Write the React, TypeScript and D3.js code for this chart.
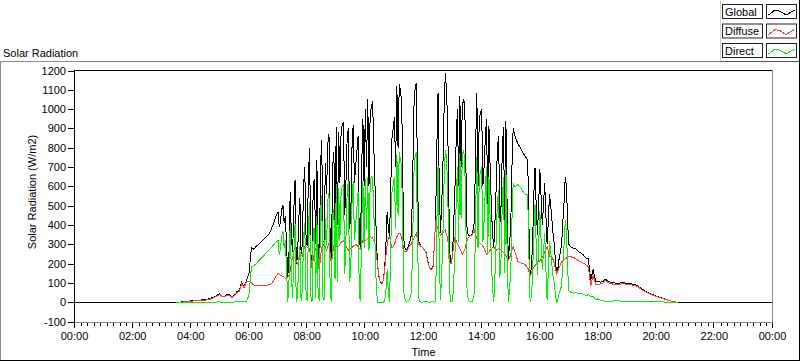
import React from 'react';
import * as d3 from 'd3';

// Waveform segments (minutes of day): dawn 03:30-06:55 every 5 min,
// day 07:00-16:57.5 every 2.5 min, dusk 17:00-21:00 every 5 min.
const DAWN_T0 = 210;
const DAWN_DT = 5;
const DAY_T0 = 420;
const DAY_DT = 2.5;
const DUSK_T0 = 1020;
const DUSK_DT = 5;

const globalDawn = [
  0, 0, 2, 3, 5, 6, 8, 9, 10, 10, 12, 13, 15, 17, 20, 25, 30, 38, 45, 31, 33, 42, 38, 28, 40, 55, 62, 105, 80, 114,
  150, 284, 275, 290, 300, 312, 325, 338, 350, 372, 405, 442,
];
const diffuseDawn = [
  0, 0, 1, 2, 3, 4, 6, 7, 8, 8, 10, 11, 12, 14, 17, 22, 27, 34, 41, 28, 30, 38, 35, 25, 36, 50, 57, 98, 76, 108,
  110, 100, 90, 88, 87, 88, 88, 88, 90, 92, 110, 132,
];
const directDawn = [
  0, 0, 0, 0, 1, 1, 1, 1, 1, 1, 1, 1, 1, 1, 1, 1, 1, 2, 2, 1, 1, 2, 1, 1, 2, 2, 2, 5, 2, 4,
  40, 184, 190, 200, 215, 228, 240, 255, 268, 280, 295, 310,
];

const globalDay = [
  // 07
  470, 390, 420, 480, 505, 410, 445, 300, 130, 250, 573, 330, 260, 480, 634, 200, 230, 420, 540, 250, 300, 600, 700, 350,
  // 08
  290, 650, 800, 260, 185, 600, 640, 300, 738, 280, 165, 700, 840, 320, 310, 720, 560, 820, 870, 300, 205, 700, 780, 420,
  // 09
  910, 400, 880, 620, 880, 920, 930, 450, 620, 850, 900, 380, 450, 800, 920, 620, 700, 780, 860, 320, 280, 700, 950, 600,
  // 10
  1000, 700, 1050, 600, 980, 1010, 1040, 800, 600, 350, 200, 140, 110, 100, 98, 120, 180, 300, 470, 380, 340, 600, 850, 900,
  // 11
  960, 700, 1120, 800, 1130, 1094, 1040, 600, 290, 280, 270, 285, 300, 320, 350, 600, 1000, 1100, 1137, 700, 320, 300, 290, 285,
  // 12
  280, 270, 260, 230, 200, 180, 170, 175, 190, 300, 430, 800, 1085, 600, 360, 500, 700, 1000, 1189, 1100, 900, 500, 210, 205,
  // 13
  250, 420, 600, 850, 1000, 600, 1067, 700, 1010, 1050, 1030, 700, 360, 350, 345, 348, 350, 380, 420, 800, 1085, 600, 950, 980,
  // 14
  1000, 600, 700, 850, 950, 500, 911, 700, 500, 350, 287, 420, 600, 800, 860, 400, 500, 780, 910, 400, 938, 500, 218, 300,
  // 15
  400, 700, 903, 870, 850, 835, 820, 810, 800, 788, 775, 765, 755, 745, 738, 400, 140, 180, 300, 550, 697, 500, 350, 500,
  // 16
  690, 550, 400, 500, 620, 450, 300, 420, 560, 500, 426, 350, 300, 200, 150, 180, 230, 260, 300, 420, 520, 650, 600, 400,
];
const diffuseDay = [
  150, 145, 140, 138, 135, 130, 125, 125, 130, 140, 160, 200, 235, 232, 230, 215, 200, 225, 250, 245, 240, 265, 288, 290,
  285, 282, 280, 230, 180, 220, 260, 275, 290, 225, 160, 230, 285, 292, 300, 285, 270, 290, 305, 250, 200, 250, 295, 300,
  300, 295, 290, 300, 310, 315, 320, 305, 290, 280, 270, 275, 280, 285, 290, 295, 300, 295, 288, 280, 275, 300, 320, 320,
  320, 325, 330, 335, 340, 338, 335, 320, 300, 260, 200, 150, 110, 104, 98, 120, 170, 240, 300, 330, 340, 310, 280, 290,
  300, 320, 340, 350, 357, 357, 330, 300, 262, 262, 265, 275, 288, 295, 300, 320, 330, 345, 357, 330, 300, 295, 288, 285,
  278, 268, 258, 228, 198, 180, 168, 172, 185, 300, 426, 400, 380, 360, 349, 355, 360, 370, 374, 350, 330, 260, 200, 203,
  248, 300, 340, 320, 300, 290, 280, 265, 250, 260, 270, 300, 322, 335, 343, 346, 348, 360, 374, 350, 330, 320, 310, 305,
  300, 290, 280, 265, 250, 255, 260, 270, 280, 285, 285, 278, 270, 275, 280, 275, 270, 265, 260, 250, 240, 230, 216, 230,
  250, 270, 288, 270, 250, 230, 210, 208, 205, 202, 200, 198, 195, 188, 180, 160, 138, 150, 170, 180, 190, 200, 210, 212,
  215, 222, 230, 245, 260, 275, 288, 265, 240, 238, 235, 220, 200, 170, 148, 165, 180, 195, 210, 215, 220, 225, 230, 235,
];
const directDay = [
  320, 245, 280, 342, 370, 280, 320, 175, 0, 110, 413, 130, 25, 248, 404, 0, 30, 195, 290, 5, 60, 335, 412, 60,
  5, 368, 520, 30, 5, 380, 380, 25, 448, 55, 5, 470, 555, 28, 10, 435, 290, 530, 565, 50, 5, 450, 485, 120,
  610, 105, 590, 320, 570, 605, 610, 145, 330, 570, 630, 105, 170, 515, 630, 325, 400, 485, 572, 40, 5, 400, 630, 280,
  640, 375, 650, 265, 620, 652, 640, 460, 300, 90, 0, 0, 0, 0, 0, 0, 10, 60, 170, 50, 0, 290, 570, 610,
  650, 380, 770, 450, 780, 735, 700, 300, 25, 15, 3, 10, 12, 25, 50, 280, 660, 750, 780, 370, 20, 5, 2, 0,
  2, 2, 2, 2, 2, 0, 2, 3, 5, 0, 4, 400, 705, 240, 11, 145, 340, 630, 790, 750, 570, 240, 10, 2,
  2, 120, 260, 530, 700, 310, 775, 435, 760, 790, 740, 400, 38, 15, 2, 2, 2, 20, 46, 450, 750, 280, 640, 675,
  700, 310, 420, 585, 700, 245, 650, 430, 220, 65, 2, 142, 330, 525, 580, 125, 230, 515, 650, 150, 698, 270, 2, 70,
  150, 430, 615, 600, 600, 605, 610, 602, 595, 586, 575, 567, 560, 557, 558, 240, 2, 30, 130, 370, 507, 300, 140, 288,
  475, 328, 170, 255, 360, 175, 12, 155, 320, 262, 190, 130, 100, 30, 2, 15, 50, 65, 90, 205, 300, 425, 370, 165,
];

const globalDusk = [
  300, 285, 280, 275, 262, 255, 245, 230, 225, 115, 170, 110,
  110, 105, 108, 120, 112, 105, 102, 100, 98, 100, 104, 100,
  100, 98, 95, 92, 88, 80, 70, 62, 55, 48, 42, 38,
  33, 28, 24, 20, 16, 12, 8, 5, 3, 0, 0, 0,
  0,
];
const diffuseDusk = [
  240, 235, 232, 225, 215, 210, 202, 195, 185, 85, 140, 95,
  92, 95, 100, 114, 105, 98, 95, 92, 90, 93, 98, 95,
  95, 93, 90, 88, 84, 76, 66, 58, 52, 45, 40, 36,
  31, 26, 22, 18, 15, 11, 7, 4, 2, 0,
];
const directDusk = [
  60, 50, 48, 50, 47, 45, 43, 35, 40, 30, 30, 15,
  18, 10, 8, 6, 7, 7, 7, 8, 8, 7, 6, 5,
  5, 5, 5, 4, 4, 4, 4, 4, 3, 3, 2, 2,
  2, 2, 2, 2, 1, 1, 1, 1, 1, 0,
];

// Global radiation is zero through the night at both ends of the day
const nightStart = { t: 0, v: 0 };
const nightEnd = { t: 1440, v: 0 };

const yTickValues = [-100, 0, 100, 200, 300, 400, 500, 600, 700, 800, 900, 1000, 1100, 1200];
const xTickValues = [0, 120, 240, 360, 480, 600, 720, 840, 960, 1080, 1200, 1320, 1440];
const xTickLabels = ['00:00', '02:00', '04:00', '06:00', '08:00', '10:00', '12:00', '14:00', '16:00', '18:00', '20:00', '22:00', '00:00'];

const seriesNames = ['Global', 'Diffuse', 'Direct'];
const seriesColors = ['#000000', '#ff3c3c', '#00f000'];

const W = 800;
const H = 361;
const FONT = "'Liberation Sans', Arial, sans-serif";

const plot = { left: 74.5, right: 772.5, top: 70.5, bottom: 322.5 };

type Pt = { t: number; v: number };
const seg = (t0: number, dt: number, arr: number[]): Pt[] => arr.map((v, i) => ({ t: t0 + i * dt, v }));

export default function App() {
  const x = d3.scaleLinear().domain([0, 1440]).range([plot.left, plot.right]);
  const y = d3.scaleLinear().domain([-100, 1200]).range([plot.bottom - 0.8, plot.top]);

  const line = d3
    .line<Pt>()
    .x((d) => x(d.t))
    .y((d) => y(d.v));

  const globalPts = [
    nightStart,
    ...seg(DAWN_T0, DAWN_DT, globalDawn),
    ...seg(DAY_T0, DAY_DT, globalDay),
    ...seg(DUSK_T0, DUSK_DT, globalDusk),
    nightEnd,
  ];
  const diffusePts = [
    ...seg(DAWN_T0, DAWN_DT, diffuseDawn),
    ...seg(DAY_T0, DAY_DT, diffuseDay),
    ...seg(DUSK_T0, DUSK_DT, diffuseDusk),
  ];
  const directPts = [
    ...seg(DAWN_T0, DAWN_DT, directDawn),
    ...seg(DAY_T0, DAY_DT, directDay),
    ...seg(DUSK_T0, DUSK_DT, directDusk),
  ];
  const paths = [line(globalPts) || '', line(diffusePts) || '', line(directPts) || ''];

  // minor ticks between major ticks
  const minorTicks: number[] = [];
  for (let k = 0; k < xTickValues.length - 1; k++) {
    const a = xTickValues[k];
    const b = xTickValues[k + 1];
    for (let j = 1; j < 9; j++) minorTicks.push(a + ((b - a) * j) / 9);
  }

  const legendTop = [4.5, 24, 43.5];

  return (
    <svg
      width={W}
      height={H}
      style={{ position: 'fixed', left: 0, top: 0, background: '#fff' }}
      fontFamily={FONT}
    >
      <rect x={0} y={0} width={W} height={H} fill="#fff" />
      {/* panel borders */}
      <line x1={0} x2={720} y1={61.5} y2={61.5} stroke="#8a8a8a" />
      <line x1={720} x2={800} y1={61.5} y2={61.5} stroke="#555" />
      <line x1={0.5} x2={0.5} y1={61} y2={361} stroke="#8a8a8a" />
      <line x1={0} x2={800} y1={360.5} y2={360.5} stroke="#000" />
      <line x1={799.5} x2={799.5} y1={0} y2={361} stroke="#000" />
      <line x1={720.5} x2={720.5} y1={0} y2={61} stroke="#d0d0d0" />

      <text x={3} y={57} fontSize={11} fill="#000">Solar Radiation</text>

      {/* legend */}
      {seriesNames.map((name, k) => (
        <g key={name}>
          <rect x={722.5} y={legendTop[k]} width={40} height={14} fill="#fff" stroke="#222" />
          <text x={725} y={legendTop[k] + 11} fontSize={11} fill="#000">{name}</text>
          <rect x={766.5} y={legendTop[k]} width={30} height={14} fill="#fff" stroke="#222" />
          <polyline
            points={[
              [768.5, legendTop[k] + 10.5],
              [775, legendTop[k] + 5.5],
              [780.5, legendTop[k] + 7],
              [786, legendTop[k] + 10.5],
              [794.5, legendTop[k] + 5.5],
            ]
              .map((p) => p.join(','))
              .join(' ')}
            fill="none"
            stroke={seriesColors[k]}
            strokeWidth={1}
            shapeRendering="crispEdges"
          />
        </g>
      ))}

      <defs>
        <clipPath id="plotClip">
          <rect x={plot.left} y={plot.top} width={plot.right - plot.left} height={plot.bottom - plot.top} />
        </clipPath>
      </defs>

      <g clipPath="url(#plotClip)">
        {paths.map((d, k) => (
          <path
            key={k}
            d={d}
            fill="none"
            stroke={seriesColors[k]}
            strokeWidth={1}
            strokeLinejoin="miter"
            shapeRendering="crispEdges"
          />
        ))}
      </g>

      {/* plot frame */}
      <line x1={plot.right} x2={plot.right} y1={plot.top} y2={plot.bottom} stroke="#8a8a8a" />
      <line x1={plot.left} x2={plot.right + 0.5} y1={plot.bottom} y2={plot.bottom} stroke="#8a8a8a" />
      <line x1={plot.left} x2={plot.right} y1={plot.top} y2={plot.top} stroke="#000" />
      <line x1={plot.left} x2={plot.left} y1={plot.top - 0.5} y2={plot.bottom} stroke="#000" />

      {/* y axis */}
      {yTickValues.map((v) => (
        <g key={v}>
          <line x1={68} x2={plot.left} y1={Math.round(y(v)) + 0.5} y2={Math.round(y(v)) + 0.5} stroke="#000" />
          <text x={66} y={Math.round(y(v)) + 0.5} dy="0.35em" textAnchor="end" fontSize={11} fill="#000">
            {v}
          </text>
        </g>
      ))}
      <text transform="translate(36,192) rotate(-90)" textAnchor="middle" fontSize={11} fill="#000">
        Solar Radiation (W/m2)
      </text>

      {/* x axis */}
      {minorTicks.map((t, k) => (
        <line key={'m' + k} x1={Math.round(x(t)) + 0.5} x2={Math.round(x(t)) + 0.5} y1={323} y2={326} stroke="#000" />
      ))}
      {xTickValues.map((t, k) => (
        <g key={'M' + k}>
          <line x1={Math.round(x(t)) - 0.5} x2={Math.round(x(t)) - 0.5} y1={323} y2={328} stroke="#000" />
          <text x={x(t)} y={340} textAnchor="middle" fontSize={11} fill="#000">
            {xTickLabels[k]}
          </text>
        </g>
      ))}
      <text x={(plot.left + plot.right) / 2} y={356} textAnchor="middle" fontSize={11} fill="#000">
        Time
      </text>
    </svg>
  );
}
